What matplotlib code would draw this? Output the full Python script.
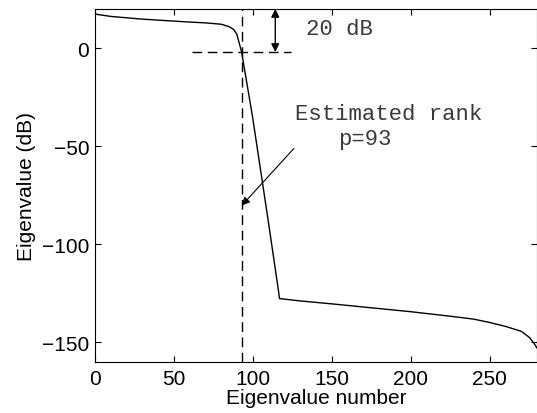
import matplotlib
matplotlib.use("Agg")
import matplotlib.pyplot as plt
import numpy as np

# eigenvalue spectrum (dB)
eig_n = [0, 10, 20, 30, 40, 50, 60, 70, 80, 85, 88, 90, 91, 93, 100, 110, 116, 117,
         130, 150, 175, 200, 225, 240, 250, 260, 270, 275, 278, 280]
eig_db = [17.4, 16.2, 15.5, 14.8, 14.3, 13.8, 13.3, 12.9, 12.2, 11.0, 9.5, 7.0, 4.0, -2.0,
          -35.5, -89.0, -122.0, -127.8, -129.0, -130.5, -132.5, -134.5, -136.8, -138.3,
          -140.0, -142.0, -144.5, -147.5, -150.5, -153.0]
rank_p = 93
thresh_db = -2
top_db = 20
xticks = [0, 50, 100, 150, 200, 250]
yticks = [0, -50, -100, -150]

fig = plt.figure(figsize=(5.37, 4.14), dpi=100)
ax = fig.add_axes([0.1764, 0.124, 0.8236, 0.852])

ax.plot(eig_n, eig_db, color='k', lw=1.0)
ax.axvline(rank_p, color='k', lw=1.0, ls=(0, (7, 4)))
ax.plot([61.5, 124], [thresh_db, thresh_db], color='k', lw=1.0, ls=(0, (7, 4)))

ax.annotate('', xy=(114.3, thresh_db), xytext=(114.3, top_db),
            arrowprops=dict(arrowstyle='<|-|>', color='k', lw=1.0,
                            mutation_scale=12, shrinkA=0, shrinkB=0))
ax.annotate('', xy=(93.1, -80.3), xytext=(126.1, -51.2),
            arrowprops=dict(arrowstyle='-|>', color='k', lw=0.8,
                            mutation_scale=12, shrinkA=0, shrinkB=0))

mono = dict(family='Liberation Mono', fontsize=16, color='#3a3a3a')
ax.text(133.7, 10, '20 dB', va='center', ha='left', **mono)
ax.text(127, -33.4, 'Estimated rank', va='center', ha='left', **mono)
ax.text(154, -46.2, 'p=93', va='center', ha='left', **mono)

ax.set_xlim(0, 280)
ax.set_ylim(-160, 20)
ax.set_xticks(xticks)
ax.set_yticks(yticks)
ax.tick_params(direction='in', top=True, right=True, length=4, labelsize=15)
ax.tick_params(axis='x', pad=5)
ax.tick_params(axis='y', pad=4)
for lab in ax.get_xticklabels() + ax.get_yticklabels():
    lab.set_family('Liberation Sans')
ax.set_xlabel('Eigenvalue number', fontsize=15, family='Liberation Sans', labelpad=0)
ax.set_ylabel('Eigenvalue (dB)', fontsize=15, family='Liberation Sans', labelpad=4)

fig.savefig('out.png', dpi=100)
